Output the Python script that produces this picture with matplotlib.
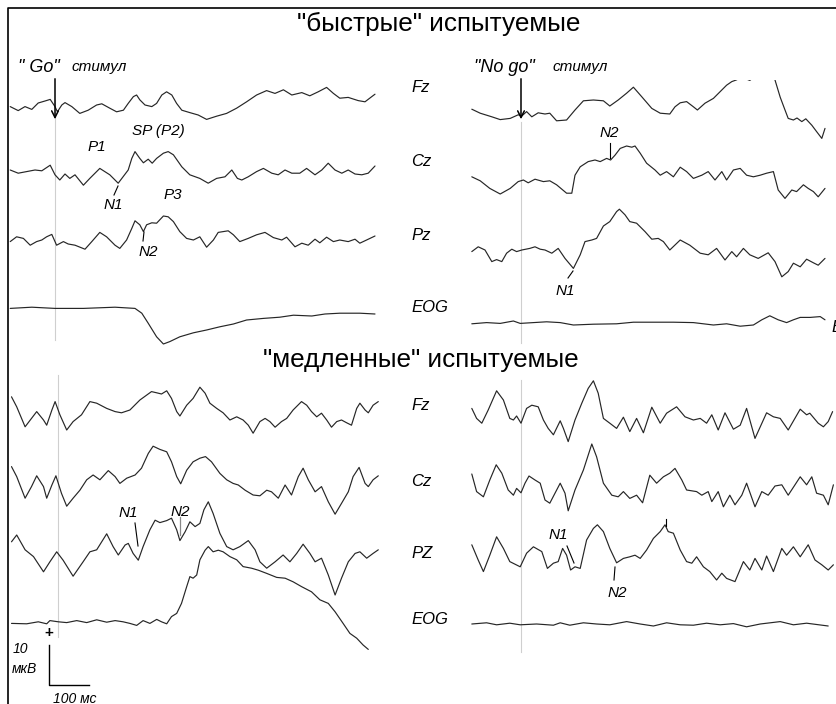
import matplotlib
matplotlib.use("Agg")
import matplotlib.pyplot as plt
from matplotlib.patches import Rectangle
import numpy as np

plt.rcParams['font.family'] = ['Liberation Sans', 'DejaVu Sans']

# ERP traces: (time from stimulus, ms ; amplitude, uV), positive up
fast_go_fz = [(-112, 0.1), (-92, -0.9), (-75, 0.1), (-58, -0.6), (-42, 1.0), (-25, 1.5), (-12, 1.9),
              (0, 0.1), (6, -1.2), (17, 0.5), (25, 1.1), (42, 0.1), (62, -1.6), (83, -0.8), (104, 0.5),
              (117, 0.8), (137, -0.3), (154, -1.2), (171, -0.8), (183, 0.9), (196, 2.6), (204, 3.0),
              (212, 1.8), (225, 0.5), (242, 0.1), (254, 0.9), (267, 3.0), (279, 3.8), (292, 3.0),
              (304, 0.9), (317, -0.8), (337, -1.4), (358, -2.0), (379, -3.1), (404, -2.3), (429, -1.6),
              (454, -0.3), (479, 1.3), (504, 3.0), (529, 4.1), (550, 3.4), (571, 4.3), (592, 3.0),
              (617, 3.6), (637, 2.8), (658, 3.8), (679, 4.9), (696, 3.4), (712, 2.2), (733, 2.4),
              (758, 1.6), (775, 1.3), (792, 2.6), (800, 3.2)]
fast_go_cz = [(-112, 0.0), (-92, -0.8), (-71, -0.4), (-50, 0.0), (-33, -0.2), (-12, 1.2), (0, -1.2),
              (12, -2.5), (25, -1.0), (37, -2.1), (50, -1.2), (71, -3.8), (87, -2.1), (112, 0.4),
              (137, -1.2), (158, -3.3), (183, 0.0), (192, 2.9), (200, 4.6), (212, 2.9), (221, 1.8),
              (233, 2.7), (243, 1.7), (254, 2.9), (271, 4.2), (283, 4.6), (296, 3.8), (317, 0.8),
              (337, -1.2), (362, -2.1), (383, -3.3), (404, -2.1), (425, -1.7), (442, 0.0), (456, -2.1),
              (467, -2.5), (483, -1.7), (504, -0.4), (521, 0.4), (542, -0.8), (558, -1.2), (575, 0.0),
              (592, -0.8), (612, -0.8), (629, 0.4), (650, -1.2), (667, 0.0), (683, 1.7), (700, 0.0),
              (717, -0.8), (733, 0.0), (750, -1.0), (767, -1.2), (783, -0.8), (800, 1.0)]
fast_go_pz = [(-112, 0.1), (-96, 1.3), (-79, 0.9), (-62, -0.8), (-46, 0.1), (-33, 0.5), (-21, 1.3),
              (-8, 1.9), (4, -0.8), (21, 0.1), (33, -0.5), (50, -0.8), (75, -1.8), (92, 0.1), (112, 2.4),
              (129, 1.3), (150, -0.8), (162, -1.6), (179, 0.5), (192, 3.4), (200, 5.3), (212, 4.3),
              (221, 2.6), (229, 4.3), (242, 4.8), (254, 4.7), (271, 6.5), (283, 6.3), (296, 5.1),
              (312, 2.6), (329, 0.9), (346, 0.5), (362, 1.3), (379, -1.3), (396, 0.5), (408, 2.4),
              (433, 2.8), (446, 1.8), (462, 0.1), (483, 0.9), (504, 1.8), (525, 2.4), (546, 1.1),
              (567, 0.5), (579, 1.2), (600, -1.2), (617, -0.3), (633, -0.8), (650, 0.7), (662, -0.2),
              (679, 1.2), (696, 0.1), (712, 0.5), (733, 0.1), (750, 0.7), (762, -0.3), (779, 0.5),
              (800, 1.5)]
fast_go_eog = [(-112, -0.1), (-58, 0.2), (0, -0.1), (71, -0.1), (150, 0.2), (200, -0.1), (217, -1.3),
               (233, -3.8), (254, -7.2), (271, -9.0), (287, -8.4), (312, -7.2), (346, -6.2),
               (379, -5.5), (412, -4.7), (446, -4.0), (479, -3.0), (521, -2.6), (562, -2.3),
               (596, -1.8), (642, -2.0), (675, -1.5), (712, -1.3), (762, -1.3), (800, -1.5)]

fast_nogo_fz = [(-123, 0.2), (-102, -0.8), (-73, -1.7), (-52, -2.4), (-27, -2.1), (-7, -1.2), (2, -1.5),
                (14, -0.4), (27, -1.7), (43, -0.7), (60, -1.0), (72, -0.8), (89, -2.7), (114, -2.5),
                (135, 0.0), (156, 2.3), (181, 2.5), (206, 2.3), (222, 1.0), (243, 2.5), (264, 4.2),
                (281, 5.7), (302, 3.3), (327, 0.4), (348, -0.8), (372, -1.0), (385, 0.8), (398, 1.8),
                (414, 2.1), (431, 0.8), (441, 0.0), (460, 1.7), (481, 2.9), (498, 4.6), (514, 6.2),
                (527, 7.1), (538, 7.5), (552, 8.2), (572, 7.4), (598, 9.5), (622, 9.5), (635, 7.5),
                (648, 3.2), (660, 0.0), (668, -2.1), (681, -2.5), (690, -2.0), (702, -2.9), (712, -2.2),
                (727, -3.8), (739, -5.4), (752, -7.1), (760, -4.6)]
fast_nogo_cz = [(-123, 0.8), (-102, -0.2), (-78, -2.1), (-52, -3.5), (-27, -2.1), (-7, -0.4), (6, 0.0),
                (18, -0.7), (35, 0.2), (56, -0.4), (72, -0.2), (89, -1.2), (114, -3.3), (127, -3.3),
                (135, 1.2), (148, 3.3), (168, 4.6), (185, 5.0), (198, 4.6), (214, 5.4), (224, 5.0),
                (235, 6.2), (248, 7.9), (264, 8.5), (277, 8.2), (285, 8.5), (298, 6.7), (314, 4.2),
                (335, 2.5), (348, 1.2), (364, 2.1), (381, 0.8), (398, 3.2), (414, 2.1), (431, 0.4),
                (452, 1.2), (468, 2.1), (485, 0.0), (502, 2.1), (514, 0.0), (531, 2.5), (548, 2.9),
                (564, 1.2), (581, 0.8), (598, 1.2), (614, 1.7), (631, 2.1), (643, -2.5), (660, -4.6),
                (677, -2.5), (689, -2.9), (706, -1.2), (718, -2.1), (731, -2.9), (743, -4.2), (760, -2.1)]
fast_nogo_pz = [(-123, -0.4), (-107, 0.8), (-90, 0.0), (-73, -2.9), (-61, -2.4), (-48, -2.9), (-36, -0.8),
                (-23, 0.2), (-11, -0.4), (2, 0.0), (22, 0.4), (35, 0.8), (48, 0.2), (60, 0.0), (77, -0.8),
                (93, 0.4), (110, -2.1), (131, -4.6), (148, -1.2), (160, 2.1), (177, 2.5), (189, 2.9),
                (206, 6.0), (222, 7.1), (239, 9.6), (246, 10.2), (260, 8.8), (272, 7.1), (289, 6.7),
                (310, 4.6), (327, 2.7), (343, 2.9), (356, 2.1), (372, 0.0), (398, 2.5), (422, 1.2),
                (448, -0.8), (468, -1.2), (489, 0.4), (510, -2.5), (527, -0.4), (539, -1.7), (556, 0.4),
                (572, -1.2), (593, -2.1), (618, -0.7), (635, -2.9), (652, -6.7), (668, -5.4),
                (681, -3.3), (698, -4.2), (714, -2.3), (731, -3.2), (743, -3.8), (760, -2.1)]
fast_nogo_eog = [(-123, -0.2), (-86, 0.1), (-52, -0.1), (-19, 0.5), (-2, -0.1), (31, 0.1), (64, 0.3),
                 (98, 0.1), (131, -0.5), (181, -0.3), (239, -0.2), (281, 0.2), (331, 0.2), (381, 0.2),
                 (431, 0.1), (481, -0.5), (514, -0.2), (548, -0.8), (581, -0.5), (602, 0.8), (622, 1.8),
                 (643, 0.8), (664, 0.1), (681, 0.8), (698, 1.4), (723, 1.4), (748, 1.6), (760, 0.8)]

slow_go_fz = [(-117, 3.3), (-104, 0.8), (-83, -4.2), (-67, -2.1), (-54, -0.4), (-37, -2.5), (-29, -3.8),
              (-16, 0.0), (-8, 2.1), (4, -1.2), (21, -5.0), (37, -2.9), (58, -1.2), (79, 2.1), (96, 1.7),
              (121, 0.4), (142, -0.4), (158, -0.7), (179, 0.0), (204, 2.5), (233, 4.6), (246, 4.3),
              (258, 4.0), (271, 4.8), (283, 2.9), (296, -0.4), (304, -1.5), (321, 1.2), (337, 2.9),
              (354, 5.7), (367, 4.2), (379, 1.7), (396, 0.4), (412, -0.7), (429, -2.5), (446, -1.7),
              (462, -2.5), (475, -3.8), (487, -5.8), (504, -2.9), (517, -2.1), (529, -2.9), (542, -4.3),
              (558, -2.9), (571, -2.1), (587, 0.0), (608, 2.1), (621, 1.2), (633, -0.4), (646, -1.7),
              (658, -0.8), (671, -2.5), (683, -4.3), (696, -2.9), (708, -2.5), (721, -3.2), (733, -3.8),
              (746, 0.4), (754, 1.7), (767, 0.0), (775, -0.7), (787, 1.2), (800, 2.1)]
slow_go_cz = [(-117, 4.1), (-104, 1.6), (-83, -3.8), (-67, -0.9), (-54, 1.8), (-37, -0.9), (-29, -3.8),
              (-16, -0.5), (-6, 1.8), (8, -2.6), (21, -5.8), (37, -3.8), (54, -1.8), (71, 0.8), (87, 2.0),
              (104, 0.8), (125, 3.1), (142, 1.6), (154, -0.1), (171, 1.2), (192, 2.0), (208, 3.7),
              (225, 7.4), (237, 9.2), (254, 8.4), (271, 7.8), (283, 5.3), (296, 1.6), (306, -0.2),
              (321, 3.2), (337, 5.3), (354, 6.2), (368, 6.6), (383, 5.3), (404, 2.4), (421, 0.8),
              (437, -0.1), (450, -0.5), (467, -1.8), (487, -3.0), (504, -3.2), (521, -1.8), (533, -2.2),
              (550, -3.8), (567, -0.5), (583, -3.0), (600, 1.6), (612, 3.7), (625, 0.8), (642, -2.2),
              (658, -0.9), (675, -4.7), (692, -7.8), (708, -5.1), (725, -2.2), (737, 1.6), (752, 3.9),
              (767, -0.1), (775, -0.9), (787, 0.8), (800, 1.8)]
slow_go_pz = [(-117, 2.8), (-104, 4.5), (-83, 0.8), (-62, -0.9), (-37, -4.7), (-21, -2.2), (-4, 0.3),
              (12, -1.8), (37, -5.8), (62, -2.2), (79, 0.3), (96, 0.8), (121, 4.8), (137, 1.6),
              (150, -0.5), (167, 2.0), (175, 2.4), (187, -0.1), (200, -1.8), (212, 1.6), (229, 5.8),
              (242, 8.2), (254, 7.6), (271, 8.1), (283, 8.7), (296, 5.8), (304, 3.1), (317, 5.3),
              (329, 7.8), (342, 6.6), (354, 7.4), (364, 10.8), (375, 12.8), (387, 9.9), (404, 4.9),
              (421, 1.6), (437, 0.8), (454, 1.6), (475, 3.1), (492, 0.8), (504, -2.2), (521, -3.8),
              (542, -2.2), (562, -0.5), (579, -2.2), (596, -0.1), (612, 2.2), (629, -0.1), (642, -2.2),
              (658, -1.3), (675, -5.5), (692, -10.5), (708, -6.3), (725, -2.2), (742, -0.1), (754, 0.3),
              (771, -1.3), (787, -0.1), (800, 0.8)]
slow_go_eog = [(-117, -0.1), (-79, -0.2), (-50, 0.3), (-29, -0.2), (-21, 0.6), (0, 0.3), (21, 0.1),
               (46, 0.6), (71, 0.1), (96, 0.8), (121, 0.2), (142, 0.6), (162, 0.3), (179, -0.1),
               (196, -0.6), (212, 0.6), (229, -0.1), (246, 0.9), (258, 0.3), (271, -0.2), (283, 1.6),
               (296, 2.4), (308, 4.9), (321, 9.1), (329, 11.6), (337, 11.2), (346, 12.0), (354, 15.8),
               (367, 18.2), (375, 19.1), (387, 17.8), (400, 18.2), (412, 17.8), (429, 16.6), (446, 15.8),
               (462, 14.1), (483, 13.7), (500, 13.2), (521, 12.4), (546, 11.4), (567, 11.2), (587, 10.3),
               (608, 9.1), (633, 7.8), (654, 5.8), (675, 4.9), (692, 2.8), (712, -0.1), (729, -2.6),
               (746, -3.8), (762, -5.5), (775, -6.6)]

slow_nogo_fz = [(-123, 2.4), (-111, -0.1), (-98, -1.3), (-82, 2.0), (-61, 6.8), (-44, 4.5), (-28, -0.1),
                (-19, -0.5), (-11, 0.5), (0, -1.3), (14, 2.4), (27, 3.2), (43, 2.8), (56, -0.5), (68, -2.6),
                (81, -4.2), (98, -0.7), (106, -2.6), (118, -5.9), (135, -0.5), (152, 3.7), (168, 7.4),
                (181, 9.3), (193, 6.2), (206, -0.1), (222, -1.3), (239, -2.6), (256, 0.2), (272, -3.4),
                (289, -0.1), (306, -3.7), (327, 2.7), (348, -1.3), (364, 1.2), (389, 2.8), (410, 0.3),
                (431, -0.5), (448, -0.1), (464, -1.3), (477, 0.8), (493, -3.0), (510, 1.3), (531, -2.8),
                (548, -1.8), (564, 2.4), (585, -5.1), (614, 1.3), (631, 0.3), (648, -0.1), (668, -3.0),
                (698, 2.2), (714, 0.8), (722, 1.2), (743, -1.3), (756, -2.2), (768, -0.9), (779, 1.6)]
slow_nogo_cz = [(-123, 3.5), (-111, -0.9), (-94, -2.2), (-78, 2.0), (-62, 5.8), (-48, 3.7), (-32, -0.5),
                (-19, -1.8), (-11, -0.1), (0, -1.2), (10, 1.2), (20, 3.0), (35, 2.0), (48, 1.2), (60, -3.0),
                (72, -3.8), (85, -1.3), (98, 1.2), (110, -1.3), (118, -5.7), (135, -0.5), (156, 4.5),
                (177, 11.0), (189, 7.8), (206, 1.2), (227, -1.8), (243, -2.2), (256, -0.9), (272, -2.6),
                (289, -1.8), (304, -3.7), (322, 3.2), (339, 1.2), (356, 2.8), (372, 3.7), (385, 4.9),
                (402, 2.0), (414, -0.5), (439, -0.9), (452, -1.8), (468, -0.9), (477, -3.4), (493, -0.9),
                (506, -4.7), (522, -1.8), (535, -4.2), (552, -1.8), (564, 1.2), (585, -4.7), (602, -0.9),
                (618, -1.8), (635, 0.5), (652, 0.8), (668, -1.8), (685, 0.8), (698, 2.8), (714, 0.8),
                (727, 2.8), (739, -1.3), (756, -1.8), (768, -4.2), (781, 0.8)]
slow_nogo_pz = [(-123, 3.8), (-107, 0.0), (-94, -2.9), (-78, 1.2), (-61, 5.8), (-44, 2.9), (-28, -0.4),
                (-2, -1.7), (14, 1.7), (31, 3.3), (52, 2.1), (66, -2.1), (81, -0.8), (93, -0.4), (104, 2.9),
                (114, 1.2), (124, -2.5), (135, -1.7), (148, -2.1), (164, 5.0), (181, 7.9), (191, 8.8),
                (206, 7.1), (222, 2.9), (239, -0.7), (256, 0.4), (272, 0.8), (285, 1.2), (298, 0.4),
                (314, 2.5), (331, 5.4), (348, 7.1), (360, 8.8), (368, 7.1), (381, 6.7), (398, 2.5),
                (414, -0.4), (427, -0.8), (439, 0.8), (456, -1.7), (472, -2.9), (489, -5.0), (502, -3.3),
                (514, -4.6), (535, -5.4), (556, -0.4), (572, -2.5), (585, 0.4), (602, -2.5), (614, 1.0),
                (631, -2.9), (652, 2.9), (664, 1.2), (681, 3.3), (698, 0.8), (718, 3.8), (735, 0.0),
                (752, -1.2), (768, -2.5), (781, -1.2)]
slow_nogo_eog = [(-123, 0.0), (-86, 0.3), (-61, -0.2), (-28, 0.2), (-2, -0.2), (39, 0.0), (81, -0.3),
                 (98, 0.3), (122, -0.3), (156, 0.3), (189, 0.0), (222, -0.2), (264, 0.6), (298, 0.0),
                 (331, -0.5), (364, 0.3), (398, -0.2), (431, -0.3), (464, 0.2), (498, -0.2), (531, 0.1),
                 (564, -0.7), (598, 0.0), (648, 0.6), (681, -0.2), (714, 0.2), (768, -0.5)]

leads = ['Fz', 'Cz', 'Pz', 'EOG']
leads_slow = ['Fz', 'Cz', 'PZ', 'EOG']

# ---- layout (pixels) ----
W, H = 837, 704
PX_MS = 0.4   # px per ms  (100 ms = 40 px)
PX_UV = 4.0   # px per uV  (10 uV = 40 px)
trace_col = '#262626'

fig = plt.figure(figsize=(W / 100, H / 100), dpi=100)
ax = fig.add_axes([0, 0, 1, 1])
ax.set_xlim(0, W)
ax.set_ylim(H, 0)
ax.axis('off')


def draw(trace, x0, y0, clip=None):
    t = np.array([p[0] for p in trace])
    v = np.array([p[1] for p in trace])
    ln, = ax.plot(x0 + t * PX_MS, y0 - v * PX_UV, color=trace_col, lw=0.85,
                  solid_joinstyle='round', solid_capstyle='round')
    if clip is not None:
        ln.set_clip_path(clip)


# frame
ax.plot([8, 8, W], [H, 8, 8], color='black', lw=1.2)

# stimulus lines
for xs, ya, yb in [(55, 100, 340), (521, 122, 343), (58.3, 375, 637), (521, 380, 652)]:
    ax.plot([xs, xs], [ya, yb], color='#cfcfcf', lw=0.8, zorder=0)

# fast subjects
draw(fast_go_fz, 55, 107)
draw(fast_go_cz, 55, 170)
draw(fast_go_pz, 55, 242)
draw(fast_go_eog, 55, 308)
clip = Rectangle((460, 80), 380, 200, transform=ax.transData)
draw(fast_nogo_fz, 521, 110, clip=clip)
draw(fast_nogo_cz, 521, 180)
draw(fast_nogo_pz, 521, 250)
draw(fast_nogo_eog, 521, 323)

# slow subjects
draw(slow_go_fz, 58.3, 410)
draw(slow_go_cz, 58.3, 483)
draw(slow_go_pz, 58.3, 553)
draw(slow_go_eog, 58.3, 623)
draw(slow_nogo_fz, 521, 418)
draw(slow_nogo_cz, 521, 488)
draw(slow_nogo_pz, 521, 560)
draw(slow_nogo_eog, 521, 624)

# titles
ax.text(439, 24, '"быстрые" испытуемые', fontsize=18.8, ha='center', va='center')
ax.text(421, 360, '"медленные" испытуемые', fontsize=18.8, ha='center', va='center')

# lead names
for name, y in zip(leads, [87, 162, 235, 308]):
    ax.text(411, y, name, fontsize=12, style='italic', ha='left', va='center')
for name, y in zip(leads_slow, [405, 481, 554, 620]):
    ax.text(411, y, name, fontsize=12, style='italic', ha='left', va='center')
ax.text(831, 328, 'EOG', fontsize=12, style='italic', ha='left', va='center')

# stimulus markers
ax.text(18, 67, '" Go"', fontsize=13, style='italic', ha='left', va='center')
ax.text(72, 67, 'стимул', fontsize=11, style='italic', ha='left', va='center')
ax.text(474, 67, '"No go"', fontsize=13, style='italic', ha='left', va='center')
ax.text(553, 67, 'стимул', fontsize=11, style='italic', ha='left', va='center')
for xs in [55, 521]:
    ax.annotate('', xy=(xs, 122), xytext=(xs, 76),
                arrowprops=dict(arrowstyle='->', lw=1.1, color='black', mutation_scale=12))

# component labels
comp = [('P1', 97, 147), ('SP (P2)', 158, 131), ('N1', 113, 205), ('P3', 173, 195), ('N2', 148, 252),
        ('N2', 609, 133), ('N1', 565, 291), ('N1', 128, 513), ('N2', 180, 512), ('N1', 558, 535),
        ('N2', 617, 593)]
for txt, x, y in comp:
    ax.text(x, y, txt, fontsize=11, style='italic', ha='center', va='center')
ticks = [((118, 186), (114, 195)), ((144, 232), (143, 241)), ((610, 143), (610, 158)),
         ((573, 271), (568, 278)), ((135, 523), (138, 546)), ((567, 546), (574, 563)),
         ((615, 567), (614, 580)), ((665.7, 519), (665.7, 526))]
for (xa, ya), (xb, yb) in ticks:
    ax.plot([xa, xb], [ya, yb], color='black', lw=0.8)
ax.plot([180, 180], [517, 535], color='#888888', lw=0.9)

# scale bar
ax.text(49, 633, '+', fontsize=11, fontweight='bold', ha='center', va='center')
ax.plot([49, 49, 49 + 100 * PX_MS], [685 - 10 * PX_UV, 685, 685], color='black', lw=1.0)
ax.text(13, 649, '10', fontsize=10, style='italic', ha='left', va='center')
ax.text(12, 669, 'мкВ', fontsize=10, style='italic', ha='left', va='center')
ax.text(53, 699, '100 мс', fontsize=10, style='italic', ha='left', va='center')

fig.savefig('out.png', dpi=100)
